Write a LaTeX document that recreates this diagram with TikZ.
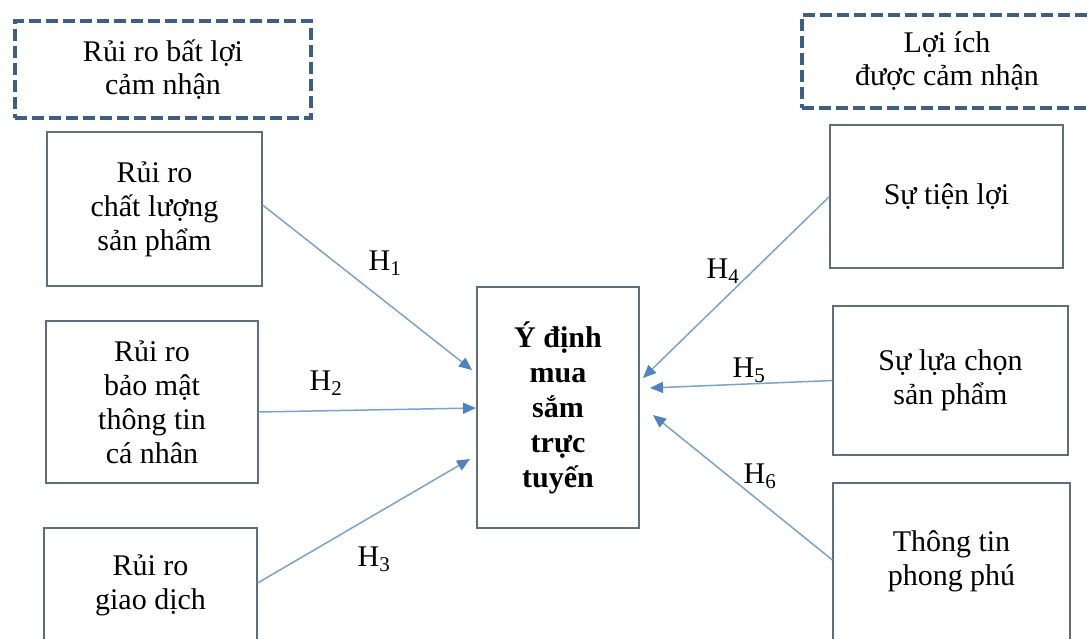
\documentclass[tikz,border=0pt]{standalone}
\usepackage{fontspec}
\setmainfont{Liberation Serif}
\usetikzlibrary{arrows.meta}

\definecolor{boxline}{RGB}{95,110,125}
\definecolor{groupline}{RGB}{62,95,130}
\definecolor{linkline}{RGB}{125,162,200}
\definecolor{linktip}{RGB}{80,130,190}

\begin{document}
\begin{tikzpicture}[x=1pt,y=-1pt,
  factor/.style={draw=boxline, line width=1.2pt, align=center, inner sep=0pt,
                 font=\fontsize{30}{34}\selectfont},
  group/.style={draw=groupline, line width=4.5pt, dash pattern=on 12pt off 5pt,
                align=center, inner sep=0pt, font=\fontsize{30}{33}\selectfont},
  link/.style={draw=linkline, line width=1.5pt,
               -{Triangle[length=13pt,width=11pt,color=linktip]}},
  hyp/.style={inner sep=0pt, font=\fontsize{30}{34}\selectfont}]

\useasboundingbox (0,0) rectangle (1091,639);
\clip (0,0) rectangle (1091,639);

% group headings (the right one runs past the page edge)
\node[group, minimum width=296pt, minimum height=97pt] (gL) at (163,69.5)
  {Rủi ro bất lợi\\cảm nhận};
\node[group, minimum width=300pt, minimum height=93pt] (gR) at (952,61.5)
  {Lợi ích\rule{10pt}{0pt}\\được cảm nhận\rule{10pt}{0pt}};

% left factors
\node[factor, minimum width=215pt, minimum height=154pt] (f1) at (154.5,209)
  {Rủi ro\\chất lượng\\sản phẩm};
\node[factor, minimum width=212pt, minimum height=162pt] (f2) at (152,402)
  {Rủi ro\\bảo mật\\thông tin\\cá nhân};
\node[factor, minimum width=213pt, minimum height=114pt] (f3) at (150.5,585)
  {Rủi ro\\giao dịch};

% outcome
\node[factor, minimum width=162pt, minimum height=241pt,
      font=\fontsize{30}{35}\selectfont\bfseries] (c) at (558,407.5)
  {Ý định\\mua\\sắm\\trực\\tuyến};

% right factors
\node[factor, minimum width=233pt, minimum height=143pt] (r1) at (946.5,196.5)
  {Sự tiện lợi};
\node[factor, minimum width=235pt, minimum height=149pt] (r2) at (950.5,380.5)
  {Sự lựa chọn\\sản phẩm};
\node[factor, minimum width=237pt, minimum height=157pt] (r3) at (951.5,561.5)
  {Thông tin\\phong phú};

% arrow ends beside the outcome box
\coordinate (e1) at (472,370);
\coordinate (e2) at (476,408);
\coordinate (e3) at (470,459);
\coordinate (e4) at (643,378);
\coordinate (e5) at (650,388);
\coordinate (e6) at (653,415);

\draw[link] ([yshift=4pt]f1.east) -- (e1);
\draw[link] ([yshift=-10pt]f2.east) -- (e2);
\draw[link] ([yshift=2pt]f3.east) -- (e3);
\draw[link] (r1.west) -- (e4);
\draw[link] (r2.west) -- (e5);
\draw[link] ([yshift=1.5pt]r3.west) -- (e6);

% hypothesis labels
\node[hyp] (h1) at (385,263) {H\textsubscript{1}};
\node[hyp] (h2) at (326,383) {H\textsubscript{2}};
\node[hyp] (h3) at (374,559) {H\textsubscript{3}};
\node[hyp] (h4) at (723,271) {H\textsubscript{4}};
\node[hyp] (h5) at (749,370) {H\textsubscript{5}};
\node[hyp] (h6) at (760,476) {H\textsubscript{6}};
\end{tikzpicture}
\end{document}
